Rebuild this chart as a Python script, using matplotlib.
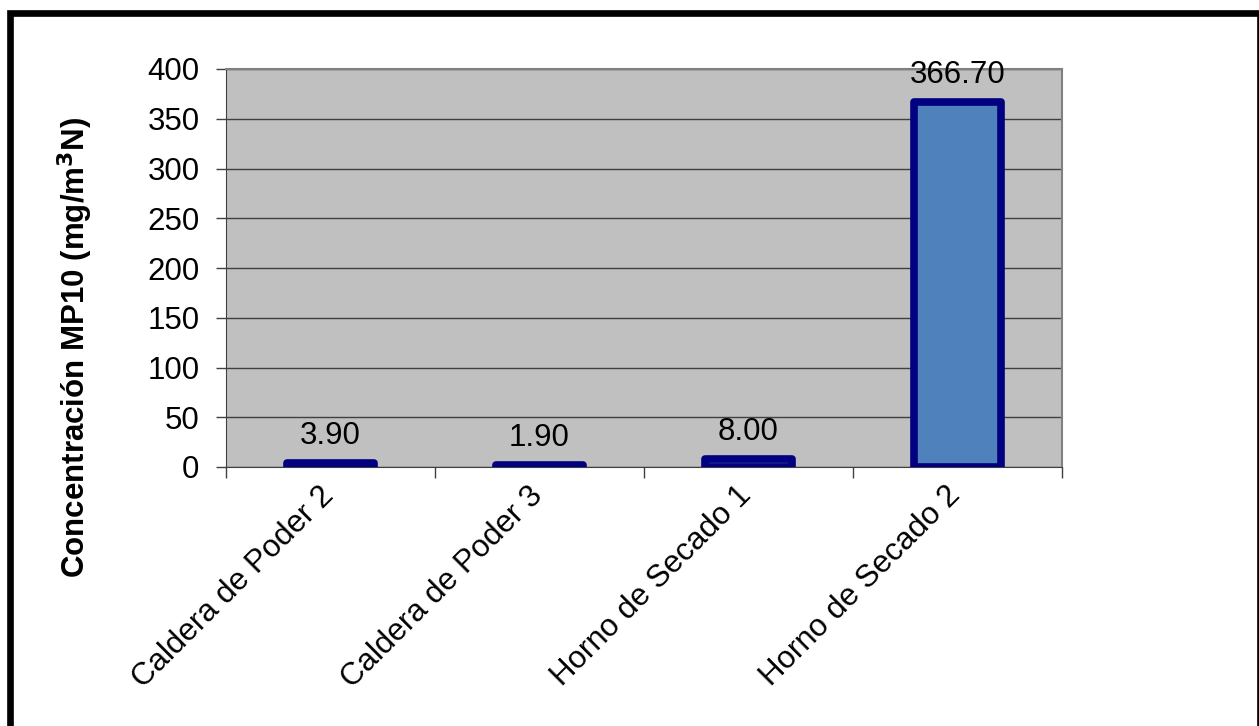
import matplotlib
matplotlib.use("Agg")
import matplotlib.pyplot as plt
from matplotlib.patches import Rectangle
from matplotlib.transforms import ScaledTranslation
import numpy as np

categories = ["Caldera de Poder 2", "Caldera de Poder 3", "Horno de Secado 1", "Horno de Secado 2"]
values = [3.90, 1.90, 8.00, 366.70]
labels = ["3.90", "1.90", "8.00", "366.70"]
yticks = [0, 50, 100, 150, 200, 250, 300, 350, 400]

plt.rcParams['font.family'] = ['Liberation Sans', 'DejaVu Sans']

W, H = 1259, 726
fig = plt.figure(figsize=(W / 100, H / 100), dpi=100)
fig.patch.set_facecolor("white")

# outer frame
fig.add_artist(Rectangle((10.5 / W, -0.05), (1259.5 - 10.5) / W, 1 - 12.5 / H + 0.05,
                         transform=fig.transFigure, fill=False, edgecolor="black",
                         linewidth=4.8, zorder=0))

ax = fig.add_axes([226 / W, 1 - 467 / H, (1062 - 226) / W, (467 - 69) / H])
ax.set_facecolor("#C0C0C0")
x = np.arange(len(categories))
bars = ax.bar(x, values, width=0.42, color="#4F81BD", edgecolor="#000080",
              linewidth=5.5, zorder=3)
for b in bars:
    b.set_joinstyle("round")

ax.set_xlim(-0.5, len(categories) - 0.5)
ax.set_ylim(0, 400)
ax.set_yticks(yticks)
ax.set_yticklabels([str(t) for t in yticks], fontsize=22.5)
ax.yaxis.grid(True, color="#404040", linewidth=1.0, zorder=1)
ax.set_axisbelow(True)
ax.tick_params(axis="y", direction="out", length=7, width=1, color="#404040", pad=12)

ax.set_xticks(x)
ax.set_xticklabels(categories, rotation=45, ha="right", rotation_mode="anchor", fontsize=22.5)
ax.tick_params(axis="x", length=0, pad=12)
shift = ScaledTranslation(-12 / 100, 3 / 100, fig.dpi_scale_trans)
for t in ax.get_xticklabels():
    t.set_transform(t.get_transform() + shift)
ax.set_xticks(np.arange(-0.5, len(categories)), minor=True)
ax.tick_params(axis="x", which="minor", direction="out", length=8, width=1, color="#404040")

for s in ["top", "right"]:
    ax.spines[s].set_color("#808080")
    ax.spines[s].set_linewidth(1.5)
ax.spines["left"].set_color("#404040")
ax.spines["bottom"].set_color("#404040")

for xi, v, lab in zip(x, values, labels):
    ax.annotate(lab, (xi, v), xytext=(0, 9), textcoords="offset points",
                ha="center", va="bottom", fontsize=22.5, zorder=4)

fig.text(85 / W, 1 - 347 / H, "Concentración MP10 (mg/m$^{\\mathbf{3}}$N)", rotation=90,
         rotation_mode="anchor", ha="center", va="baseline",
         fontsize=22.5, fontweight="bold")

fig.savefig("out.png", dpi=100)
